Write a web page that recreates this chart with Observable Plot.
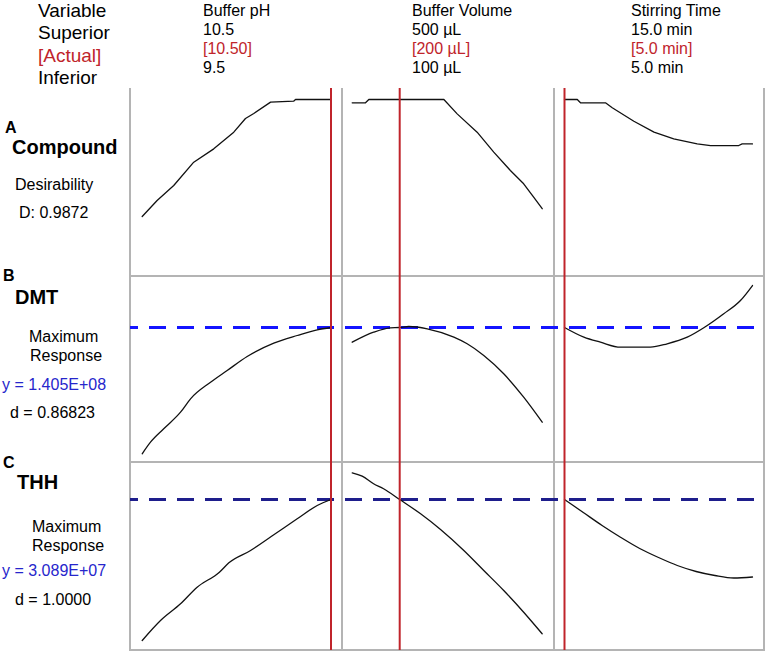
<!DOCTYPE html>
<html><head><meta charset="utf-8">
<script src="https://cdn.jsdelivr.net/npm/d3@7"></script>
<script src="https://cdn.jsdelivr.net/npm/@observablehq/plot@0.6"></script>
<style>
body{margin:0;background:#fff;}
#root{position:relative;width:768px;height:654px;font-family:Arial,"Liberation Sans",sans-serif;overflow:hidden;background:#fff;}
.t{position:absolute;white-space:nowrap;line-height:1;color:#000;}
.p{position:absolute;}
.p svg{display:block;overflow:visible;background:transparent;}
.g{position:absolute;background:#b4b4b4;}
</style></head><body><div id="root"></div>
<script>
// ---------- data ----------
const factors = ["Buffer pH", "Buffer Volume", "Stirring Time"];
const superiorLabels = ["10.5", "500 µL", "15.0 min"];
const actualLabels = ["[10.50]", "[200 µL]", "[5.0 min]"];
const inferiorLabels = ["9.5", "100 µL", "5.0 min"];
const lowValues = [9.5, 100, 5];
const highValues = [10.5, 500, 15];
const actualValues = [10.5, 200, 5];

const responseLetters = ["A", "B", "C"];
const responseNames = ["Compound", "DMT", "THH"];
const targetValues = [null, 1.405e8, 3.089e7];
const targetLabels = [null, "y = 1.405E+08", "y = 3.089E+07"];
const dLabels = ["D: 0.9872", "d = 0.86823", "d = 1.0000"];

// Compound (desirability) vs each factor
const compPH_x = [9.5, 9.579, 9.667, 9.773, 9.879, 9.985, 10.047, 10.091, 10.18, 10.302, 10.312, 10.5];
const compPH_y = [0.291, 0.388, 0.479, 0.62, 0.701, 0.802, 0.885, 0.915, 0.984, 0.99, 1.0, 1.0];
const compVol_x = [100, 128, 135, 293, 321, 363, 398, 433, 461, 482, 500];
const compVol_y = [0.98, 0.98, 1.0, 1.0, 0.913, 0.802, 0.681, 0.57, 0.489, 0.408, 0.338];
const compTime_x = [5, 5.68, 5.85, 7.18, 7.54, 8.69, 9.76, 10.81, 12.06, 12.77, 14.27, 14.45, 15];
const compTime_y = [1.0, 1.0, 0.98, 0.98, 0.95, 0.868, 0.802, 0.762, 0.731, 0.721, 0.721, 0.731, 0.731];

// DMT response vs each factor
const dmtPH_x = [9.5, 9.544, 9.614, 9.703, 9.756, 9.862, 9.95, 10.056, 10.197, 10.321, 10.427, 10.5];
const dmtPH_y = [7.735e7, 8.315e7, 8.985e7, 9.815e7, 1.0485e8, 1.1315e8, 1.19e8, 1.26e8, 1.3265e8, 1.365e8, 1.3935e8, 1.405e8];
const dmtVol_x = [100, 145, 180, 200, 219, 258, 314, 342, 377, 419, 461, 500];
const dmtVol_y = [1.3315e8, 1.3815e8, 1.4035e8, 1.405e8, 1.41e8, 1.3985e8, 1.3565e8, 1.3235e8, 1.265e8, 1.1735e8, 1.0565e8, 9.315e7];
const dmtTime_x = [5, 6.03, 6.91, 7.98, 9.57, 10.46, 11.53, 12.41, 13.47, 14.36, 15];
const dmtTime_y = [1.405e8, 1.3565e8, 1.3315e8, 1.3065e8, 1.3065e8, 1.3235e8, 1.3565e8, 1.4035e8, 1.4735e8, 1.54e8, 1.615e8];

// THH response vs each factor
const thhPH_x = [9.5, 9.597, 9.703, 9.791, 9.909, 9.959, 10.074, 10.197, 10.321, 10.427, 10.5];
const thhPH_y = [1.679e7, 1.879e7, 2.046e7, 2.212e7, 2.362e7, 2.456e7, 2.579e7, 2.736e7, 2.896e7, 3.029e7, 3.089e7];
const thhVol_x = [100, 121, 145, 166, 200, 244, 286, 335, 377, 419, 461, 500];
const thhVol_y = [3.356e7, 3.322e7, 3.246e7, 3.196e7, 3.089e7, 2.946e7, 2.789e7, 2.579e7, 2.379e7, 2.179e7, 1.962e7, 1.746e7];
const thhTime_x = [5, 6, 7, 8, 9, 10, 11, 12, 13, 14, 15];
const thhTime_y = [3.089e7, 2.959e7, 2.829e7, 2.709e7, 2.599e7, 2.509e7, 2.429e7, 2.369e7, 2.329e7, 2.304e7, 2.314e7];

const curveX = [[compPH_x, compVol_x, compTime_x], [dmtPH_x, dmtVol_x, dmtTime_x], [thhPH_x, thhVol_x, thhTime_x]];
const curveY = [[compPH_y, compVol_y, compTime_y], [dmtPH_y, dmtVol_y, dmtTime_y], [thhPH_y, thhVol_y, thhTime_y]];
const rowDomains = [[0, 1], [7.7e7, 1.62e8], [1.65e7, 3.4e7]];

// ---------- layout ----------
const root = document.getElementById("root");
const colX = [130, 342, 554], colW = [212, 212, 210];
const rowY = [88, 276, 462], rowH = [188, 186, 188];
const xRanges = [[11.7, 200.5], [9.7, 199.7], [10, 198]];
const yRanges = [[176, 11], [178, 8], [180.9, 5.9]];
const dashColors = [null, "#1414ff", "#1e1e8c"];
const RED = "#c0242b", BLUE = "#2626cc";

function text(str, left, top, size, opts = {}) {
  const d = document.createElement("div");
  d.className = "t";
  d.textContent = str;
  d.style.left = left + "px";
  d.style.top = top + "px";
  d.style.fontSize = size + "px";
  if (opts.color) d.style.color = opts.color;
  if (opts.bold) d.style.fontWeight = "bold";
  root.appendChild(d);
}

// header (left)
text("Variable", 38, 0.5, 19);
text("Superior", 38, 23, 19);
text("[Actual]", 38, 45.5, 19, {color: RED});
text("Inferior", 38, 68, 19);
// column headers
const headX = [203, 412, 631];
factors.forEach((f, i) => {
  text(f, headX[i], 3, 16);
  text(superiorLabels[i], headX[i], 21.5, 16);
  text(actualLabels[i], headX[i], 40.5, 16, {color: RED});
  text(inferiorLabels[i], headX[i], 59.5, 16);
});

// row labels
text(responseLetters[0], 5, 120, 16, {bold: true});
text(responseNames[0], 12, 136.5, 20, {bold: true});
text("Desirability", 15, 177, 16);
text(dLabels[0], 19, 205, 16);

text(responseLetters[1], 3, 268, 16, {bold: true});
text(responseNames[1], 15, 286.5, 20, {bold: true});
text("Maximum", 29, 329, 16);
text("Response", 30, 348, 16);
text(targetLabels[1], 2, 377, 16, {color: BLUE});
text(dLabels[1], 10, 405, 16);

text(responseLetters[2], 3, 455, 16, {bold: true});
text(responseNames[2], 17, 471.5, 20, {bold: true});
text("Maximum", 32, 518.5, 16);
text("Response", 32, 538, 16);
text(targetLabels[2], 2, 563, 16, {color: BLUE});
text(dLabels[2], 15, 591.5, 16);

// panels
for (let r = 0; r < 3; r++) {
  for (let c = 0; c < 3; c++) {
    const data = curveX[r][c].map((x, i) => ({x, y: curveY[r][c][i]}));
    const marks = [];
    if (targetValues[r] != null) {
      marks.push(Plot.ruleY([targetValues[r]], {
        stroke: dashColors[r], strokeWidth: 3, strokeDasharray: "17,11",
        strokeDashoffset: (colX[c] - 130) + 9
      }));
    }
    marks.push(Plot.line(data, {x: "x", y: "y", stroke: "#111", strokeWidth: 1.3,
      curve: r === 0 ? "linear" : "monotone-x"}));
    marks.push(Plot.ruleX([actualValues[c]], {stroke: RED, strokeWidth: 2}));
    const svg = Plot.plot({
      width: colW[c], height: rowH[r],
      marginTop: 0, marginRight: 0, marginBottom: 0, marginLeft: 0,
      x: {domain: [lowValues[c], highValues[c]], range: xRanges[c], axis: null},
      y: {domain: rowDomains[r], range: yRanges[r], axis: null},
      style: {background: "transparent", overflow: "visible"},
      marks
    });
    const wrap = document.createElement("div");
    wrap.className = "p";
    wrap.style.left = colX[c] + "px";
    wrap.style.top = rowY[r] + "px";
    wrap.appendChild(svg);
    root.appendChild(wrap);
  }
}

// grid borders, placed beneath the panels
function gline(left, top, w, h) {
  const d = document.createElement("div");
  d.className = "g";
  d.style.left = left + "px"; d.style.top = top + "px";
  d.style.width = w + "px"; d.style.height = h + "px";
  root.insertBefore(d, root.firstChild);
}
[130, 342, 554, 763.5].forEach(x => gline(x - 1, 88, 2, 563));
[276, 462, 650].forEach(y => gline(129, y - 1, 635.5, 2));
</script>
</body></html>
